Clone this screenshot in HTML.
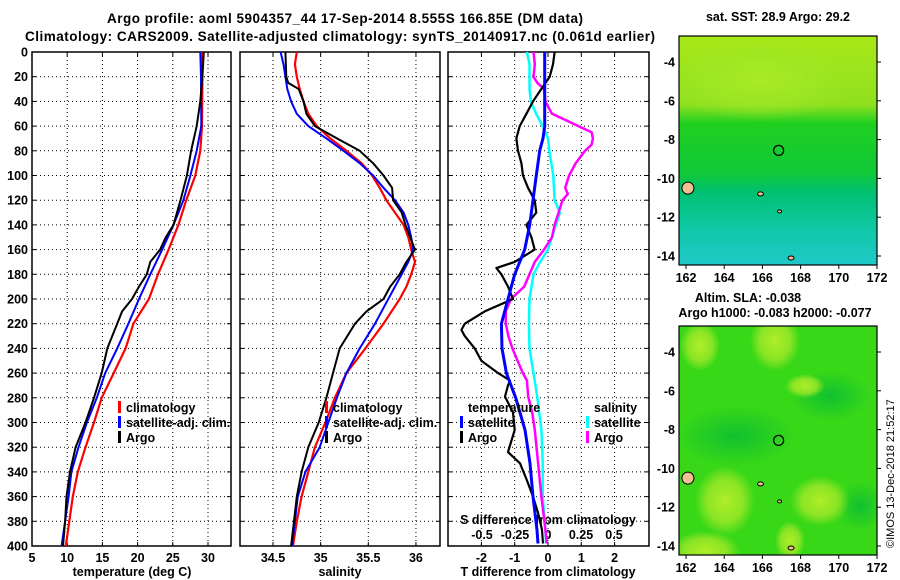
<!DOCTYPE html>
<html><head><meta charset="utf-8"><style>
body{margin:0;background:#fff}
svg{display:block;font-family:"Liberation Sans",Arial,sans-serif;font-weight:bold}
text{fill:#000}
</style></head><body>
<svg id="chart" width="900" height="580" viewBox="0 0 900 580" xmlns="http://www.w3.org/2000/svg">
<defs>
<linearGradient id="sstg" x1="0" y1="0" x2="0" y2="1">
<stop offset="0" stop-color="#a8e818"/><stop offset="0.3" stop-color="#90e020"/><stop offset="0.38" stop-color="#20d020"/><stop offset="0.6" stop-color="#10c838"/><stop offset="0.68" stop-color="#00c070"/><stop offset="0.85" stop-color="#10c8a8"/><stop offset="1" stop-color="#20c8c8"/>
</linearGradient>
<radialGradient id="blob" cx="0.5" cy="0.5" r="0.5"><stop offset="0" stop-color="#b0ee28"/><stop offset="0.6" stop-color="#a0e828" stop-opacity="0.8"/><stop offset="1" stop-color="#a0e828" stop-opacity="0"/></radialGradient>
<radialGradient id="dark" cx="0.5" cy="0.5" r="0.5"><stop offset="0" stop-color="#10c030"/><stop offset="1" stop-color="#10c030" stop-opacity="0"/></radialGradient>
</defs>
<g id="titles">
<text x="345" y="23" font-size="13.5" text-anchor="middle" textLength="476">Argo profile: aoml 5904357_44 17-Sep-2014 8.555S 166.85E (DM data)</text>
<text x="340" y="41" font-size="13.5" text-anchor="middle" textLength="630">Climatology: CARS2009. Satellite-adjusted climatology: synTS_20140917.nc (0.061d earlier)</text>
</g>
<g id="plots"></g>
<g id="maps"></g>
<text transform="translate(894,548) rotate(-90)" font-size="11" font-weight="normal">©IMOS 13-Dec-2018 21:52:17</text>
</svg>
<script>
// ---- data ----
const depthT = [0,20,60,80,100,120,140,160,180,200,220,240,260,280,300,320,340,360,380,400];
const tempClim = [29.2,29.2,29.15,28.9,28.2,26.9,25.8,24.4,22.9,21.6,19.4,18.3,16.6,14.9,13.8,12.6,11.5,10.8,10.3,9.8];
const tempSat = [28.9,29.0,29.05,28.4,27.5,26.5,25.1,23.5,21.8,20.2,18.7,17.1,15.4,14.2,12.8,11.6,10.6,10.2,9.7,9.2];
const depthTA = [0,20,40,60,80,100,120,140,150,160,170,180,190,200,210,220,240,260,280,300,320,340,360,380,400];
const tempArgo = [29.4,29.2,28.9,28.4,27.6,27.0,26.1,25.1,24.0,23.2,21.8,21.3,20.2,19.2,17.8,17.1,15.7,14.9,13.8,12.6,11.2,10.4,9.9,9.7,9.4];
const depthS = [0,10,20,30,40,50,60,70,80,90,100,110,120,130,140,150,160,170,180,190,200,220,240,260,280,300,320,340,360,380,400];
const salClim = [34.75,34.73,34.75,34.78,34.82,34.87,34.96,35.10,35.27,35.43,35.54,35.62,35.69,35.78,35.87,35.92,35.95,35.99,35.95,35.90,35.83,35.66,35.47,35.27,35.15,35.05,34.94,34.87,34.80,34.75,34.71];
const salSat = [34.58,34.61,34.63,34.65,34.69,34.75,34.87,35.06,35.24,35.41,35.55,35.66,35.78,35.87,35.92,35.95,35.97,35.92,35.85,35.78,35.71,35.57,35.41,35.27,35.17,35.08,34.99,34.84,34.76,34.73,34.70];
const depthSA = [0,20,25,30,40,50,60,70,80,90,100,110,120,130,140,150,160,170,180,190,200,210,220,240,260,280,300,320,340,360,380,400];
const salArgo = [34.63,34.64,34.66,34.77,34.82,34.85,34.94,35.17,35.41,35.55,35.66,35.75,35.76,35.85,35.89,35.94,35.99,35.90,35.83,35.73,35.66,35.48,35.36,35.20,35.13,35.06,34.98,34.87,34.80,34.75,34.72,34.69];
const depthDT = [0,10,20,30,40,50,60,70,80,90,100,110,120,130,140,150,160,170,175,180,190,200,210,220,225,230,240,250,260,266,270,279,292,306,324,333,347,360,373,387,398];
const dTArgo = [0.2,0.15,0.05,-0.2,-0.45,-0.65,-0.85,-0.95,-0.9,-0.8,-0.75,-0.6,-0.4,-0.35,-0.65,-0.5,-0.4,-1.0,-1.55,-1.4,-1.2,-1.05,-1.9,-2.5,-2.6,-2.5,-2.2,-2.0,-1.5,-1.14,-1.2,-1.29,-1.05,-1.0,-1.2,-0.84,-0.63,-0.45,-0.3,-0.18,-0.15];
const depthDTs = [0,40,60,70,80,100,120,140,160,180,200,220,240,260,280,306,333,360,387,398];
const dTSat = [-0.1,-0.1,-0.1,-0.15,-0.25,-0.35,-0.45,-0.55,-0.7,-1.0,-1.2,-1.4,-1.38,-1.25,-0.97,-0.69,-0.54,-0.45,-0.33,-0.3];
const depthDS = [0,10,20,30,40,50,60,70,80,100,120,130,140,160,170,180,200,220,240,260,280,306,333,360,387,398];
const dSSat = [-0.16,-0.14,-0.14,-0.14,-0.13,-0.09,-0.04,0,0.01,0.04,0.05,0.09,0.06,0,-0.06,-0.11,-0.14,-0.145,-0.14,-0.11,-0.08,-0.05,-0.04,-0.04,-0.02,-0.015];
const depthDSA = [0,10,20,25,30,40,50,55,60,65,70,75,80,90,100,110,115,120,130,140,150,160,170,180,190,200,210,220,230,240,250,260,266,279,292,306,333,360,387,398];
const dSArgo = [-0.11,-0.1,-0.11,-0.08,-0.03,-0.02,0.03,0.13,0.23,0.33,0.34,0.33,0.28,0.21,0.16,0.13,0.15,0.11,0.08,0.05,0.03,-0.03,-0.1,-0.14,-0.18,-0.28,-0.32,-0.32,-0.3,-0.27,-0.23,-0.19,-0.16,-0.15,-0.12,-0.1,-0.075,-0.05,-0.02,-0.01];
const depthTicks = [0,20,40,60,80,100,120,140,160,180,200,220,240,260,280,300,320,340,360,380,400];
const tempTicks = [5,10,15,20,25,30];
const salTicks = [34.5,35,35.5,36];
const dTTicks = [-2,-1,0,1,2];
const dSTicks = [-0.5,-0.25,0,0.25,0.5];
const dSTickLabels = ["-0.5","-0.25","0","0.25","0.5"];
const lonTicks = [162,164,166,168,170,172];
const latTicks = [-4,-6,-8,-10,-12,-14];

const NS = "http://www.w3.org/2000/svg";
function mk(tag, attrs, parent, txt){const e=document.createElementNS(NS,tag);for(const k in attrs)e.setAttribute(k,attrs[k]);if(txt!==undefined)e.textContent=txt;parent.appendChild(e);return e;}
const plots = document.getElementById('plots');
const TOP=52, BOT=546;
const yD = d => TOP + d*(BOT-TOP)/400;
const xT = v => 32 + (v-5)*7.04;
const xS = v => 273 + (v-34.5)*95.3;
const xDT = v => 548 + v*33.3;
const xDS = v => 548 + v*132;
const panels = [{x0:32,x1:231,name:'temperature-panel'},{x0:240,x1:440,name:'salinity-panel'},{x0:448,x1:649,name:'difference-panel'}];

function line(xs, ds, fx, color, w, name, parent){
  const pts = xs.map((v,i)=>fx(v).toFixed(1)+','+yD(ds[i]).toFixed(1)).join(' ');
  const p = mk('polyline',{points:pts,fill:'none',stroke:color,'stroke-width':w,'stroke-linejoin':'round'},parent);
  
  
}
panels.forEach((p,pi)=>{
  const g = mk('g',{},plots);
  
  
  depthTicks.forEach(d=>{ if(d>0&&d<400){ mk('line',{x1:p.x0,x2:p.x1,y1:yD(d),y2:yD(d),stroke:'#000','stroke-width':1,'stroke-dasharray':'1,3'},g); }
    mk('line',{x1:p.x0,x2:p.x0+4,y1:yD(d),y2:yD(d),stroke:'#000'},g); mk('line',{x1:p.x1-4,x2:p.x1,y1:yD(d),y2:yD(d),stroke:'#000'},g); });
  const vt = pi===0?tempTicks.map(xT):pi===1?salTicks.map(xS):dTTicks.map(xDT);
  vt.forEach(x=>{ if(x>p.x0+1&&x<p.x1-1) mk('line',{x1:x,x2:x,y1:TOP,y2:BOT,stroke:'#000','stroke-dasharray':'1,3'},g);
    mk('line',{x1:x,x2:x,y1:BOT,y2:BOT-4,stroke:'#000'},g); mk('line',{x1:x,x2:x,y1:TOP,y2:TOP+4,stroke:'#000'},g);});
  const fr = mk('rect',{x:p.x0,y:TOP,width:p.x1-p.x0,height:BOT-TOP,fill:'none',stroke:'#000','stroke-width':1.5},g);
  
  
});
depthTicks.forEach(d=>{ const t=mk('text',{x:28,y:yD(d)+4.5,'font-size':12.5,'text-anchor':'end'},plots,String(d));
  
   });
tempTicks.forEach(v=>{ const t=mk('text',{x:xT(v),y:562,'font-size':12.5,'text-anchor':'middle'},plots,String(v));
  
   });
salTicks.forEach(v=>{ const t=mk('text',{x:xS(v),y:562,'font-size':12.5,'text-anchor':'middle'},plots,String(v));
  
   });
dTTicks.forEach(v=>{ const t=mk('text',{x:xDT(v),y:562,'font-size':12.5,'text-anchor':'middle'},plots,String(v));
  
   });
dSTicks.forEach((v,i)=>{ const t=mk('text',{x:xDS(v),y:539,'font-size':12.5,'text-anchor':'middle'},plots,dSTickLabels[i]);
  
   });
[['temperature (deg C)',132,'temperature-axis-title'],['salinity',340,'salinity-axis-title'],['T difference from climatology',548,'t-diff-axis-title']].forEach(a=>{
  const t=mk('text',{x:a[1],y:576,'font-size':12.5,'text-anchor':'middle'},plots,a[0]);
  
   });
const st=mk('text',{x:548,y:524,'font-size':12.5,'text-anchor':'middle'},plots,'S difference from climatology');



line(tempClim, depthT, xT, '#ff0000', 2.2, 'temperature-climatology-line', plots);
line(tempSat, depthT, xT, '#0000ff', 2, 'temperature-satellite-line', plots);
line(tempArgo, depthTA, xT, '#000', 2, 'temperature-argo-line', plots);
line(salClim, depthS, xS, '#ff0000', 2.2, 'salinity-climatology-line', plots);
line(salSat, depthS, xS, '#0000ff', 2, 'salinity-satellite-line', plots);
line(salArgo, depthSA, xS, '#000', 2, 'salinity-argo-line', plots);
line(dSSat, depthDS, xDS, '#00ffff', 2.5, 's-diff-satellite-line', plots);
line(dSArgo, depthDSA, xDS, '#ff00ff', 2.5, 's-diff-argo-line', plots);
line(dTArgo, depthDT, xDT, '#000', 2.2, 't-diff-argo-line', plots);
line(dTSat, depthDTs, xDT, '#0000ff', 3, 't-diff-satellite-line', plots);

function legend(x, y, items, name){
  const g = mk('g',{},plots);
  
  
  items.forEach((it,i)=>{
    if(it[1]) mk('rect',{x:x,y:y+i*15-11,width:3,height:12,fill:it[1]},g);
    const t = mk('text',{x:x+(it[1]?8:0),y:y+i*15,'font-size':12.5},g,it[0]);
    
    
  });
}
legend(118, 412, [['climatology','#ff0000'],['satellite-adj. clim.','#0000ff'],['Argo','#000']], 'temperature-legend');
legend(325, 412, [['climatology','#ff0000'],['satellite-adj. clim.','#0000ff'],['Argo','#000']], 'salinity-legend');
legend(468, 412, [['temperature',null]], 'temperature-diff-legend-title');
legend(460, 427, [['satellite','#0000ff'],['Argo','#000']], 't-diff-legend');
legend(594, 412, [['salinity',null]], 'salinity-diff-legend-title');
legend(586, 427, [['satellite','#00ffff'],['Argo','#ff00ff']], 's-diff-legend');

const maps = document.getElementById('maps');
const MX0=679, MX1=877;
const xLon = v => 686 + (v-162)*19.1;
function drawMap(y0, title1, title2, kind, name){
  const g = mk('g',{},maps);
  
  
  const yLat = v => y0 + 26 + (-4 - v)*19.4;
  const H = 229;
  const cpath = mk('clipPath',{id:'c'+kind},g);
  mk('rect',{x:MX0,y:y0,width:MX1-MX0,height:H},cpath);
  const inner = mk('g',{'clip-path':'url(#c'+kind+')'},g);
  if(kind==='sst'){
    mk('rect',{x:MX0,y:y0,width:MX1-MX0,height:H,fill:'url(#sstg)'},inner);
    mk('ellipse',{cx:760,cy:y0+45,rx:90,ry:40,fill:'url(#blob)',opacity:0.7},inner);
  } else {
    mk('rect',{x:MX0,y:y0,width:MX1-MX0,height:H,fill:'#38d818'},inner);
    [[735,y0+110,60,30],[830,y0+70,40,25],[860,y0+180,25,25]].forEach(b=>
      mk('ellipse',{cx:b[0],cy:b[1],rx:b[2],ry:b[3],fill:'url(#dark)'},inner));
    [[775,y0+15,25,30],[700,y0+20,20,25],[725,y0+175,30,35],[820,y0+175,30,25],[705,y0+225,35,20],[790,y0+215,15,20],[805,y0+60,20,12]].forEach(b=>
      mk('ellipse',{cx:b[0],cy:b[1],rx:b[2],ry:b[3],fill:'url(#blob)'},inner));
  }
  [[162.1,-10.5,6,6],[165.9,-10.8,3,2],[166.9,-11.7,2,1.5],[167.5,-14.1,3,2],[167.4,-14.6,2,1.5]].forEach(s=>
    mk('ellipse',{cx:xLon(s[0]),cy:yLat(s[1]),rx:s[2],ry:s[3],fill:'#f0c090',stroke:'#000','stroke-width':1},inner));
  const c = mk('circle',{cx:xLon(166.85),cy:yLat(-8.555),r:5,fill:'none',stroke:'#000','stroke-width':1.2},inner);
  
  
  mk('rect',{x:MX0,y:y0,width:MX1-MX0,height:H,fill:'none',stroke:'#000','stroke-width':1.2},g);
  lonTicks.forEach(v=>{ mk('line',{x1:xLon(v),x2:xLon(v),y1:y0+H,y2:y0+H+4,stroke:'#000'},g);
    const t=mk('text',{x:xLon(v),y:y0+H+17,'font-size':12.5,'text-anchor':'middle'},g,String(v));
    
     });
  latTicks.forEach(v=>{ mk('line',{x1:MX1,x2:MX1+4,y1:yLat(v),y2:yLat(v),stroke:'#000'},g);
    const t=mk('text',{x:675,y:yLat(v)+4.5,'font-size':12.5,'text-anchor':'end'},g,String(v));
    
     });
  if(title1){ const t=mk('text',{x:kind==='sst'?778:748,y:kind==='sst'?21:302,'font-size':12.5,'text-anchor':'middle'},g,title1);
    
     }
  if(title2){ const t=mk('text',{x:775,y:317,'font-size':12.5,'text-anchor':'middle'},g,title2);
    
     }
}
drawMap(36, 'sat. SST: 28.9 Argo: 29.2', null, 'sst', 'sst-map');
drawMap(326, 'Altim. SLA: -0.038', 'Argo h1000: -0.083 h2000: -0.077', 'sla', 'sla-map');
</script>
</body></html>
